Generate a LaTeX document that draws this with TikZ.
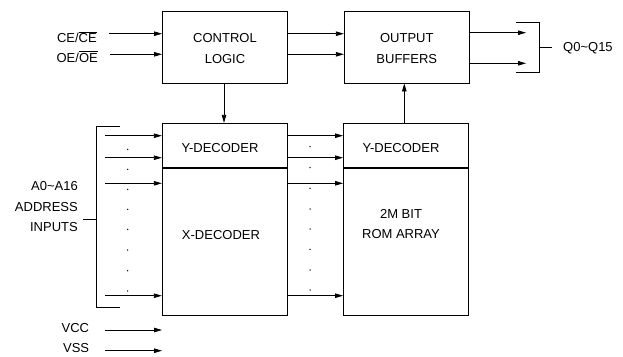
\documentclass[tikz,border=0pt]{standalone}
\usepackage{fontspec}
\setmainfont{Liberation Sans}
\usetikzlibrary{arrows.meta}
\newcommand{\ovl}[1]{$\overline{\hbox{#1}}$}
\begin{document}
\begin{tikzpicture}[x=1pt,y=-1pt,
  txt/.style={font=\fontsize{13}{15}\selectfont, inner sep=0pt, text height=9.3pt, text depth=0pt},
  blk/.style={draw, line width=0.9pt, minimum width=125pt, inner sep=0pt},
  arr/.style={line width=0.8pt, -{Triangle[length=8pt,width=4.5pt]}},
  ln/.style={line width=0.8pt},
  dotc/.style={fill, circle, inner sep=0pt, minimum size=1.5pt}]
\useasboundingbox (0,0) rectangle (623,356);
% blocks
\node[blk, minimum height=72pt] (ctl) at (225,47) {};
\node[txt] (ctlt1) at (225,38) {CONTROL};
\node[txt] (ctlt2) at (225,59) {LOGIC};
\node[blk, minimum height=72pt] (ob) at (406.8,47) {};
\node[txt] (obt1) at (406.8,38) {OUTPUT};
\node[txt] (obt2) at (406.8,59) {BUFFERS};
\node[blk, minimum height=192.4pt] (xd) at (224.8,219.5) {};
\node[blk, minimum height=192.4pt] (ra) at (406,219.5) {};
\node[txt] (yd1) at (220,148.3) {Y-DECODER};
\node[txt] (yd2) at (401,148.3) {Y-DECODER};
\node[txt] (xdt) at (221,235) {X-DECODER};
\node[txt] (rat1) at (401,214.3) {2M BIT};
\node[txt] (rat2) at (401,234.3) {ROM ARRAY};
\coordinate (div) at (0,167.7);
\draw[line width=2.2pt] (xd.west |- div) -- (xd.east |- div);
\draw[line width=2.2pt] (ra.west |- div) -- (ra.east |- div);
% control inputs
\node[txt, anchor=east] (celbl) at (97,38.3) {CE/\ovl{CE}};
\node[txt, anchor=east] (oelbl) at (98,57.5) {OE/\ovl{OE}};
\coordinate (ce) at (109,33.7);
\coordinate (oe) at (110,54.3);
\draw[arr] (ce) -- (ce -| ctl.west);
\draw[arr] (oe) -- (oe -| ctl.west);
\draw[arr] (ce -| ctl.east) -- (ce -| ob.west);
\draw[arr] (oe -| ctl.east) -- (oe -| ob.west);
% vertical arrows
\coordinate (cx) at (224,0);
\draw[arr] (cx |- ctl.south) -- (cx |- xd.north);
\coordinate (rx) at (404.3,0);
\draw[arr] (rx |- ra.north) -- (rx |- ob.south);
% outputs
\coordinate (q1) at (470,32.7);
\coordinate (q2) at (470,63.3);
\coordinate (qt) at (526,32.7);
\coordinate (qb) at (526,63.3);
\draw[arr] (q1) -- (qt);
\draw[arr] (q2) -- (qb);
\coordinate (qbt) at (516,22.3);
\coordinate (qbr) at (539.3,22.3);
\coordinate (qbb) at (539.3,72);
\coordinate (qbl) at (516,72);
\draw[ln] (qbt) -- (qbr) -- (qbb) -- (qbl);
\coordinate (qm) at (539.3,47);
\coordinate (qme) at (551.7,47);
\draw[ln] (qm) -- (qme);
\node[txt, anchor=west] (qlbl) at (563,47) {Q0\textasciitilde Q15};
% address inputs
\coordinate (abt) at (120,126);
\coordinate (abtl) at (96.7,126);
\coordinate (abbl) at (96.7,307.7);
\coordinate (abb) at (120,307.7);
\draw[ln] (abt) -- (abtl) -- (abbl) -- (abb);
\coordinate (am) at (96.7,219);
\coordinate (amw) at (82.7,219);
\draw[ln] (am) -- (amw);
\node[txt, anchor=east] (al1) at (78,186) {A0\textasciitilde A16};
\node[txt, anchor=east] (al2) at (78,206.7) {ADDRESS};
\node[txt, anchor=east] (al3) at (78,226.7) {INPUTS};
\foreach \y [count=\i] in {135.7,157.7,183.3,295.7} {
  \coordinate (a\i) at (105,\y);
  \draw[arr] (a\i) -- (a\i -| xd.west);
  \draw[arr] (a\i -| xd.east) -- (a\i -| ra.west);
}
\foreach \y [count=\i] in {149.3,169.3,189.3,209.3,229.3,250,270.7,291} {
  \node[dotc] (ld\i) at (127.7,\y) {};
}
\foreach \y [count=\i] in {146.7,167.7,188.3,209,229,249.3,270,290} {
  \node[dotc] (md\i) at (310,\y) {};
}
% power
\node[txt, anchor=east] (vcc) at (89.3,328) {VCC};
\node[txt, anchor=east] (vss) at (89.3,348) {VSS};
\coordinate (vc) at (105,330);
\coordinate (vce) at (162,330);
\coordinate (vs) at (105,350.7);
\coordinate (vse) at (162,350.7);
\draw[arr] (vc) -- (vce);
\draw[arr] (vs) -- (vse);
\end{tikzpicture}
\end{document}
